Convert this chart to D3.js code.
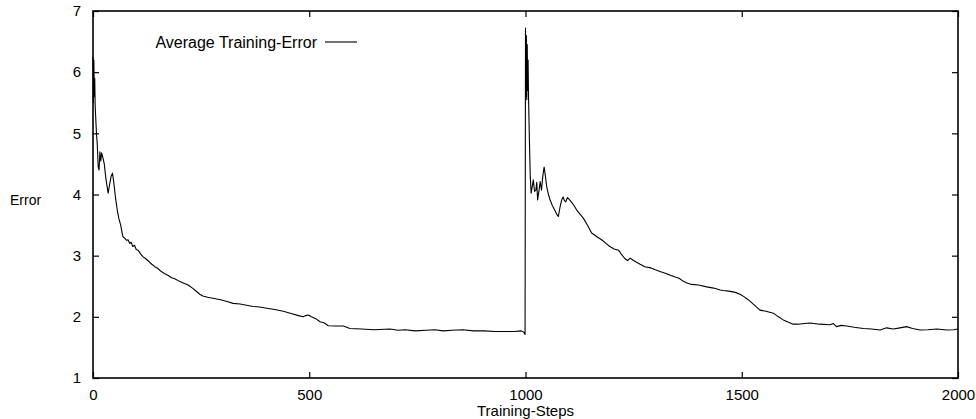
<!DOCTYPE html>
<html>
<head>
<meta charset="utf-8">
<script src="https://cdn.jsdelivr.net/npm/d3@7"></script>
<style>
    body { margin: 0; background: #fff; }
    svg { display: block; font-family: 'Liberation Sans', Arial, Helvetica, sans-serif; }
</style>
</head>
<body>
<svg id="chart" width="976" height="419"></svg>
<script>
// training steps and the average error
const steps = [
    0, 1, 2, 3, 4, 5, 6, 8, 10, 12, 14, 16, 18, 20, 23, 26, 30, 35, 38, 42, 45, 48,
    52, 56, 60, 64, 69, 74, 78, 81, 85, 88, 92, 96, 100, 104, 110, 116, 122, 130, 136,
    143, 150, 158, 165, 173, 182, 190, 200, 210, 220, 230, 240, 247, 254, 265, 280, 295,
    310, 324, 340, 355, 370, 385, 402, 420, 440, 460, 475, 486, 492, 498, 505, 515, 525,
    535, 544, 560, 579, 594, 620, 650, 687, 705, 722, 745, 770, 790, 810, 830, 855, 880,
    905, 930, 955, 975, 990, 996, 999,
    1000, 1001, 1002, 1003, 1004, 1005, 1006, 1007, 1009, 1011, 1013, 1016, 1018, 1021,
    1024, 1026, 1028, 1031, 1034, 1037, 1040, 1043, 1046, 1049, 1053, 1057, 1062, 1068,
    1072, 1076, 1080, 1084, 1087, 1090, 1093, 1097, 1101, 1106, 1112, 1118, 1126, 1134,
    1143, 1153, 1165, 1176, 1186, 1195, 1205, 1215, 1222, 1230, 1236, 1242, 1248, 1255,
    1265, 1276, 1290, 1300, 1311, 1325, 1335, 1346, 1355, 1365, 1375, 1384, 1400, 1419,
    1435, 1450, 1457, 1470, 1485, 1496, 1505, 1515, 1528, 1542, 1556, 1573, 1585, 1596,
    1608, 1619, 1630, 1645, 1658, 1680, 1704, 1712, 1719, 1730, 1743, 1760, 1781, 1800,
    1820, 1835, 1850, 1866, 1881, 1895, 1912, 1930, 1951, 1974, 1990, 2000
];
const errors = [
    6.25, 5.5, 6.2, 5.6, 5.9, 5.45, 5.3, 5.0, 4.8, 4.45, 4.4, 4.7, 4.55, 4.68, 4.6, 4.5, 4.25, 4.02, 4.15, 4.3, 4.35, 4.2,
    3.95, 3.75, 3.6, 3.5, 3.31, 3.28, 3.25, 3.26, 3.2, 3.22, 3.15, 3.17, 3.1, 3.09, 3.03, 2.98, 2.95, 2.9, 2.86,
    2.82, 2.79, 2.74, 2.71, 2.68, 2.64, 2.62, 2.58, 2.55, 2.52, 2.47, 2.41, 2.37, 2.34, 2.32, 2.30, 2.28,
    2.25, 2.22, 2.21, 2.19, 2.17, 2.16, 2.14, 2.12, 2.09, 2.05, 2.02, 2.00, 2.02, 2.03, 2.00, 1.97, 1.92,
    1.90, 1.855, 1.85, 1.85, 1.81, 1.80, 1.79, 1.80, 1.78, 1.79, 1.77, 1.78, 1.79, 1.77, 1.78, 1.79, 1.77,
    1.77, 1.76, 1.76, 1.76, 1.77, 1.75, 1.71,
    6.72, 5.6, 6.6, 5.55, 6.45, 5.7, 6.2, 5.6, 4.9, 4.3, 4.02, 4.15, 4.24, 4.05,
    4.07, 4.2, 3.91, 4.05, 4.21, 4.07, 4.3, 4.45, 4.3, 4.13, 4.0, 3.91, 3.82, 3.74,
    3.68, 3.64, 3.8, 3.92, 3.96, 3.9, 3.88, 3.95, 3.92, 3.88, 3.82, 3.75, 3.68, 3.61,
    3.5, 3.37, 3.31, 3.26, 3.2, 3.15, 3.11, 3.09, 3.02, 2.95, 2.92, 2.96, 2.93, 2.9,
    2.86, 2.82, 2.8, 2.77, 2.74, 2.71, 2.68, 2.65, 2.63, 2.58, 2.55, 2.53, 2.52, 2.49,
    2.47, 2.44, 2.43, 2.42, 2.40, 2.37, 2.33, 2.28, 2.2, 2.11, 2.09, 2.06, 2.0, 1.95,
    1.91, 1.88, 1.88, 1.89, 1.90, 1.88, 1.87, 1.89, 1.84, 1.86, 1.85, 1.83, 1.81, 1.80,
    1.785, 1.82, 1.80, 1.82, 1.84, 1.81, 1.785, 1.79, 1.80, 1.785, 1.79, 1.80
];
const xTicks = [0, 500, 1000, 1500, 2000];
const yTicks = [1, 2, 3, 4, 5, 6, 7];
const seriesName = 'Average Training-Error';

const width = 976, height = 419;
const margin = { top: 11, right: 18, bottom: 41, left: 93 };
const plotW = width - margin.left - margin.right;
const plotH = height - margin.top - margin.bottom;

var svg = d3.select('#chart');
var g = svg.append('g').attr('transform', 'translate(' + [margin.left, margin.top] + ')');

var x = d3.scaleLinear().domain([0, 2000]).range([0, plotW]);
var y = d3.scaleLinear().domain([1, 7]).range([plotH, 0]);

var points = steps.map((s, i) => ({ step: s, err: errors[i] }));

// axes: ticks point inward, mirrored on the opposite sides
g.append('g')
    .attr('class', 'x axis')
    .attr('transform', 'translate(0,' + plotH + ')')
    .call(d3.axisBottom(x).tickValues(xTicks).tickSize(-6).tickPadding(11).tickFormat(d3.format('d')));
g.append('g')
    .attr('class', 'x axis top')
    .call(d3.axisTop(x).tickValues(xTicks).tickSize(-6).tickFormat(''));
g.append('g')
    .attr('class', 'y axis')
    .call(d3.axisLeft(y).tickValues(yTicks).tickSize(-6).tickPadding(12).tickFormat(d3.format('d')));
g.append('g')
    .attr('class', 'y axis right')
    .attr('transform', 'translate(' + plotW + ',0)')
    .call(d3.axisRight(y).tickValues(yTicks).tickSize(-6).tickFormat(''));

g.selectAll('.axis .domain').remove();
g.selectAll('.axis line').attr('stroke', '#000').attr('stroke-width', 1.2);
g.selectAll('.axis text').attr('fill', '#000').style('font-size', '15px');

// frame
g.append('rect')
    .attr('width', plotW)
    .attr('height', plotH)
    .attr('fill', 'none')
    .attr('stroke', '#000')
    .attr('stroke-width', 1.6);

// the error curve
var line = d3.line()
    .x(d => x(d.step))
    .y(d => y(d.err));

g.append('path')
    .datum(points)
    .attr('fill', 'none')
    .attr('stroke', '#000')
    .attr('stroke-width', 1.1)
    .attr('stroke-linejoin', 'round')
    .attr('d', line);

// legend
g.append('text')
    .attr('x', 224)
    .attr('y', 37)
    .attr('text-anchor', 'end')
    .style('font-size', '16px')
    .text(seriesName);
g.append('line')
    .attr('x1', 232).attr('x2', 264)
    .attr('y1', 31).attr('y2', 31)
    .attr('stroke', '#000')
    .attr('stroke-width', 1.1);

// axis labels
svg.append('text')
    .attr('x', margin.left + plotW / 2)
    .attr('y', 416)
    .attr('text-anchor', 'middle')
    .style('font-size', '15px')
    .text('Training-Steps');
svg.append('text')
    .attr('x', 10)
    .attr('y', 205)
    .style('font-size', '14px')
    .text('Error');
</script>
</body>
</html>
